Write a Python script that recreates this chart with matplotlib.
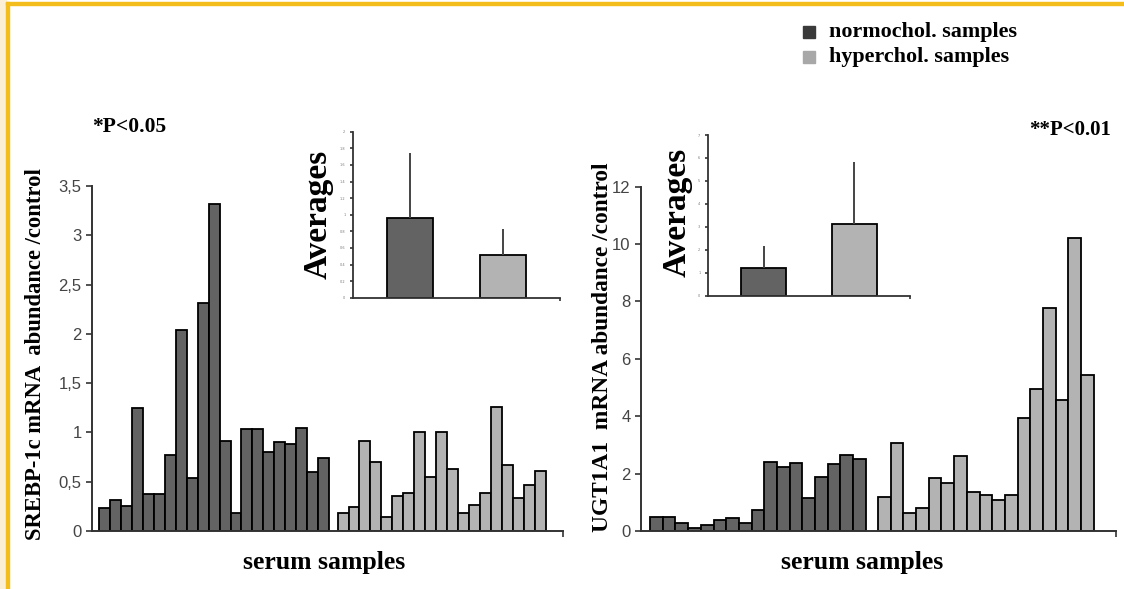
import numpy as np
import matplotlib
matplotlib.use("Agg")
import matplotlib.pyplot as plt
from matplotlib.patches import Rectangle

# values
srebp_normo = [0.23, 0.31, 0.25, 1.25, 0.38, 0.38, 0.77, 2.04, 0.54, 2.31, 3.32,
               0.91, 0.18, 1.03, 1.03, 0.80, 0.90, 0.88, 1.05, 0.60, 0.74]
srebp_hyper = [0.18, 0.24, 0.91, 0.70, 0.14, 0.36, 0.39, 1.00, 0.55, 1.00,
               0.63, 0.18, 0.26, 0.39, 1.26, 0.67, 0.33, 0.47, 0.61]
ugt_normo = [0.50, 0.50, 0.27, 0.09, 0.21, 0.38, 0.44, 0.27, 0.73, 2.42, 2.24,
             2.36, 1.16, 1.89, 2.33, 2.64, 2.52]
ugt_hyper = [1.20, 3.05, 0.63, 0.81, 1.86, 1.69, 2.60, 1.36, 1.25, 1.07, 1.25,
             3.95, 4.96, 7.76, 4.56, 10.20, 5.45]

srebp_avg = [0.96, 0.52]
srebp_sd = [0.78, 0.31]
ugt_avg = [1.21, 3.13]
ugt_sd = [0.96, 2.68]

srebp_ticks = [0, 0.5, 1, 1.5, 2, 2.5, 3, 3.5]
srebp_ticklabels = ["0", "0,5", "1", "1,5", "2", "2,5", "3", "3,5"]
ugt_ticks = [0, 2, 4, 6, 8, 10, 12]

dark = "#636363"
light = "#b3b3b3"
axcol = "#333333"
serif = ["Liberation Serif", "DejaVu Serif"]
narrow = ["Liberation Sans Narrow", "Liberation Sans", "DejaVu Sans"]

fig = plt.figure(figsize=(11.24, 5.89), dpi=100)
W, H = 1124, 589


def fx(px):
    return px / W


def fy(py):
    return 1 - py / H


def style_axes(ax, tick_len=4, lw=1.4):
    for s in ["top", "right"]:
        ax.spines[s].set_visible(False)
    for s in ["left", "bottom"]:
        ax.spines[s].set_color(axcol)
        ax.spines[s].set_linewidth(lw)
    ax.tick_params(colors=axcol, length=tick_len, width=1.2)


def main_panel(rect, normo, hyper, gap, xlim, ylim, ticks, ticklabels):
    ax = fig.add_axes(rect)
    xn = np.arange(len(normo))
    xh = len(normo) + gap + np.arange(len(hyper))
    ax.bar(xn, normo, width=1.0, color=dark, edgecolor="black", linewidth=1.3)
    ax.bar(xh, hyper, width=1.0, color=light, edgecolor="black", linewidth=1.3)
    ax.set_xlim(*xlim)
    ax.set_ylim(*ylim)
    style_axes(ax)
    ax.set_yticks(ticks)
    ax.set_yticklabels(ticklabels, family=narrow, fontsize=12, color="#444444")
    ax.set_xticks([xlim[1]])
    ax.set_xticklabels([""])
    return ax


def inset(rect, avg, sd, ylim, ticks):
    ax = fig.add_axes(rect)
    ax.bar([0, 1], avg, width=0.5, color=[dark, light], edgecolor="black",
           linewidth=1.3, yerr=[[0, 0], sd], ecolor="#444444",
           error_kw=dict(elinewidth=1.4, capsize=0))
    ax.set_xlim(-0.62, 1.62)
    ax.set_ylim(*ylim)
    style_axes(ax, tick_len=2, lw=1.3)
    ax.set_yticks(ticks)
    ax.set_yticklabels([("%g" % t).replace(".", ",") for t in ticks],
                       fontsize=2.5, color="#777777")
    ax.set_xticks([1.62])
    ax.set_xticklabels([""])
    ax.patch.set_alpha(0)
    return ax


main_panel([fx(92), fy(531), fx(563) - fx(92), fy(186) - fy(531)],
           srebp_normo, srebp_hyper, 0.77, (-1.14, 41.84), (0, 3.5),
           srebp_ticks, srebp_ticklabels)
main_panel([fx(641), fy(531), fx(1116) - fx(641), fy(186.7) - fy(531)],
           ugt_normo, ugt_hyper, 0.95, (-1.21, 36.2), (0, 12),
           ugt_ticks, [str(t) for t in ugt_ticks])

inset([fx(353), fy(297.7), fx(560) - fx(353), fy(131.7) - fy(297.7)],
      srebp_avg, srebp_sd, (0, 2), np.round(np.arange(0, 2.01, 0.2), 1))
inset([fx(708), fy(295.7), fx(910) - fx(708), fy(135) - fy(295.7)],
      ugt_avg, ugt_sd, (0, 7), list(range(8)))

# texts
fig.text(fx(318), fy(214), "Averages", rotation=90, ha="center", va="center",
         family=serif, fontweight="bold", fontsize=24)
fig.text(fx(677), fy(212), "Averages", rotation=90, ha="center", va="center",
         family=serif, fontweight="bold", fontsize=24)
fig.text(fx(36), fy(354), "SREBP-1c mRNA  abundance /control", rotation=90,
         ha="center", va="center", family=serif, fontweight="bold", fontsize=16.3)
fig.text(fx(603), fy(347), "UGT1A1  mRNA abundance /control", rotation=90,
         ha="center", va="center", family=serif, fontweight="bold", fontsize=16.8)
fig.text(fx(324), fy(562), "serum samples", ha="center", va="center",
         family=serif, fontweight="bold", fontsize=18.5)
fig.text(fx(862), fy(562), "serum samples", ha="center", va="center",
         family=serif, fontweight="bold", fontsize=18.5)
fig.text(fx(92), fy(127), "*P<0.05", ha="left", va="center",
         family=serif, fontweight="bold", fontsize=15.5)
fig.text(fx(1111), fy(130), "**P<0.01", ha="right", va="center",
         family=serif, fontweight="bold", fontsize=15)

# legend
for py, col, label in [(32, "#3a3a3a", "normochol. samples"),
                       (57, "#a8a8a8", "hyperchol. samples")]:
    fig.patches.append(Rectangle((fx(803), fy(py + 6)), fx(12), 12 / H,
                                 transform=fig.transFigure, color=col))
    fig.text(fx(829), fy(py), label, ha="left", va="center",
             family=serif, fontweight="bold", fontsize=15.8)

# frame on the page
fig.patches.append(Rectangle((0, 0), fx(6), 1, transform=fig.transFigure,
                             color="#fbefd5", zorder=0))
fig.patches.append(Rectangle((fx(6), 0), fx(3), fy(2), transform=fig.transFigure,
                             color="#f3be1c", zorder=0))
fig.patches.append(Rectangle((fx(6), fy(5)), 1, 3 / H, transform=fig.transFigure,
                             color="#f3be1c", zorder=0))

fig.savefig("out.png", dpi=100)
